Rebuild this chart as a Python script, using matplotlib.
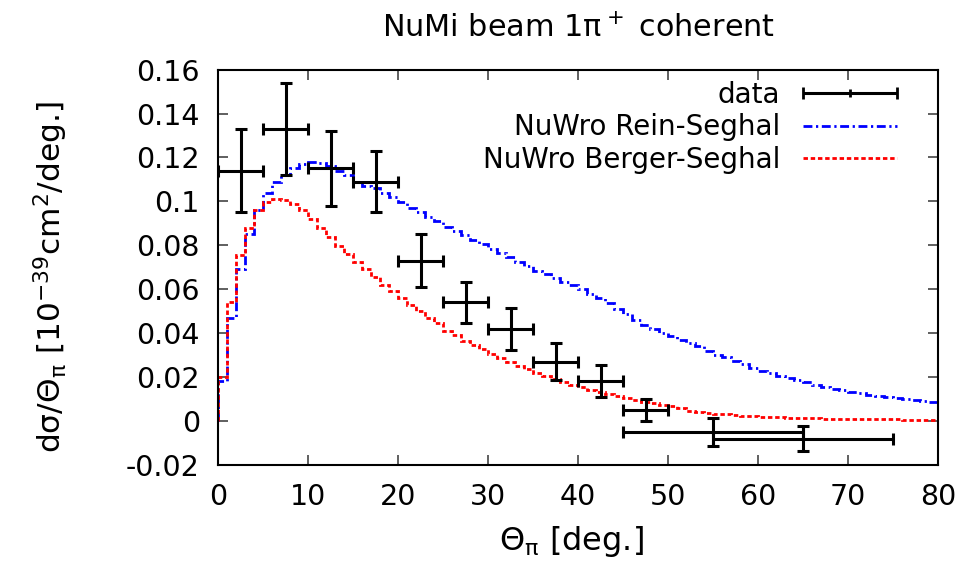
import numpy as np
import matplotlib
matplotlib.use("Agg")
import matplotlib.pyplot as plt
from matplotlib.ticker import FuncFormatter, MultipleLocator
from matplotlib.legend_handler import HandlerErrorbar

plt.rcParams['font.family'] = ['DejaVu Sans']
plt.rcParams['mathtext.fontset'] = 'custom'
plt.rcParams['mathtext.rm'] = 'DejaVu Sans'
plt.rcParams['mathtext.it'] = 'DejaVu Sans'
plt.rcParams['mathtext.bf'] = 'DejaVu Sans:bold'

# ---- data points ----
data_x = [2.5, 7.5, 12.5, 17.5, 22.5, 27.5, 32.5, 37.5, 42.5, 47.5, 55.0, 65.0]
data_xerr = [2.5, 2.5, 2.5, 2.5, 2.5, 2.5, 2.5, 2.5, 2.5, 2.5, 10.0, 10.0]
data_y = [0.114, 0.133, 0.115, 0.109, 0.073, 0.054, 0.042, 0.027, 0.018, 0.005, -0.005, -0.008]
data_yerr = [0.019, 0.021, 0.017, 0.014, 0.012, 0.0095, 0.0095, 0.0085, 0.0073, 0.005, 0.0065, 0.0055]

# ---- NuWro histograms (1 degree bins, 0..80) ----
bin_edges = np.arange(0, 81, 1)
rein_seghal = [
    0.018, 0.047, 0.069, 0.085, 0.096, 0.104, 0.109, 0.112, 0.115, 0.117,
    0.118, 0.1175, 0.116, 0.114, 0.112, 0.109, 0.107, 0.106, 0.104, 0.102,
    0.0995, 0.097, 0.095, 0.093, 0.091, 0.0885, 0.0865, 0.0845, 0.0825, 0.0805,
    0.0785, 0.0765, 0.0745, 0.0725, 0.0705, 0.0685, 0.067, 0.065, 0.0635, 0.0617,
    0.060, 0.058, 0.056, 0.0535, 0.051, 0.0485, 0.046, 0.0438, 0.0418, 0.040,
    0.0385, 0.0368, 0.0355, 0.034, 0.0318, 0.0302, 0.029, 0.0275, 0.0258, 0.024,
    0.0228, 0.0218, 0.0207, 0.0196, 0.0185, 0.0177, 0.0162, 0.0154, 0.0146, 0.0139,
    0.0132, 0.0126, 0.012, 0.0114, 0.0109, 0.0104, 0.0101, 0.0097, 0.0092, 0.0086,
]
berger_seghal = [
    0.020, 0.054, 0.0755, 0.088, 0.096, 0.0995, 0.101, 0.1005, 0.099, 0.096,
    0.092, 0.088, 0.084, 0.0795, 0.076, 0.0725, 0.069, 0.0655, 0.062, 0.059,
    0.056, 0.053, 0.050, 0.047, 0.0445, 0.041, 0.039, 0.0365, 0.0345, 0.0327,
    0.0307, 0.0288, 0.027, 0.0252, 0.0235, 0.022, 0.0205, 0.019, 0.0177, 0.0165,
    0.0153, 0.0142, 0.0131, 0.0121, 0.0112, 0.0103, 0.0095, 0.0087, 0.008, 0.0073,
    0.0066, 0.006, 0.0045, 0.0042, 0.0037, 0.0034, 0.003, 0.0027, 0.0024, 0.0021,
    0.0019, 0.0017, 0.0016, 0.0015, 0.0013, 0.0012, 0.0012, 0.0011, 0.0010, 0.0010,
    0.0009, 0.0009, 0.0008, 0.0008, 0.0007, 0.0007, 0.0006, 0.0006, 0.0005, 0.0005,
]

fig = plt.figure(figsize=(9.76, 5.64), dpi=100)
ax = fig.add_axes([0.2234, 0.1757, 0.7379, 0.7009])

ax.errorbar(data_x, data_y, xerr=data_xerr, yerr=data_yerr, fmt='none',
            ecolor='black', elinewidth=2.2, capsize=4, capthick=2.2, zorder=3)
# legend proxy for data (horizontal bar with caps and a small centre tick)
h_data = ax.errorbar([np.nan], [np.nan], xerr=[1.0], fmt='|', color='black',
                     markersize=6, markeredgewidth=2.0, elinewidth=2.2,
                     capsize=4, capthick=2.2)
h_rs = ax.stairs(rein_seghal, bin_edges, color='#0000ff', lw=2.0,
                 linestyle=(0, (3.2, 1.3, 0.8, 1.3)), zorder=2)
h_bs = ax.stairs(berger_seghal, bin_edges, color='#ff0000', lw=2.0,
                 linestyle=(0, (1.6, 1.0)), zorder=2)

ax.set_xlim(0, 80)
ax.set_ylim(-0.02, 0.16)
ax.xaxis.set_major_locator(MultipleLocator(10))
ax.yaxis.set_major_locator(MultipleLocator(0.02))
ax.yaxis.set_major_formatter(FuncFormatter(lambda v, p: '%g' % round(v, 4)))
ax.tick_params(direction='in', length=7, width=1.2, top=True, right=True,
               labelsize=20.5, color='#444444')
ax.tick_params(axis='y', pad=13)
ax.tick_params(axis='x', pad=13)
for s in ax.spines.values():
    s.set_linewidth(1.5)

ax.set_xlabel(r'$\Theta_\pi$ [deg.]', fontsize=23)
ax.xaxis.set_label_coords(0.49, -0.15)
ax.set_ylabel(r'd$\sigma$/$\Theta_\pi$ [10$^{-39}$cm$^2$/deg.]', fontsize=22.5)
ax.yaxis.set_label_coords(-0.205, 0.475)
fig.text(578 / 976, 1 - 37 / 564, r'NuMi beam 1$\pi^+$ coherent', fontsize=21.8,
         ha='center', va='baseline')

leg = ax.legend([h_data, h_rs, h_bs],
                ['data', 'NuWro Rein-Seghal', 'NuWro Berger-Seghal'],
                handler_map={h_data: HandlerErrorbar(xerr_size=1.7)},
                loc='upper right', frameon=False, markerfirst=False,
                fontsize=20, handlelength=3.4, borderaxespad=0, borderpad=0,
                labelspacing=0.16, handletextpad=0.8,
                bbox_to_anchor=(897 / 976, 1 - 81 / 564),
                bbox_transform=fig.transFigure)

fig.savefig('out.png', dpi=100)
